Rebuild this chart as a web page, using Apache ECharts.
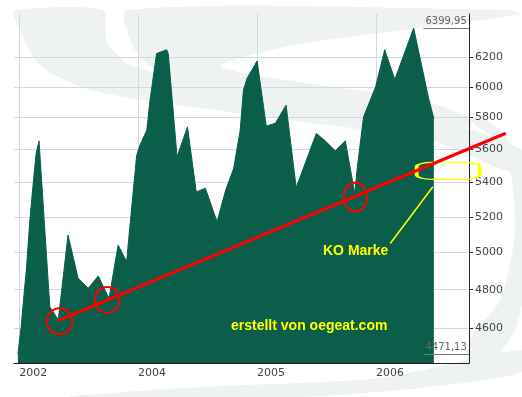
<!DOCTYPE html>
<html>
<head>
<meta charset="utf-8">
<script src="https://cdn.jsdelivr.net/npm/echarts@6/dist/echarts.min.js"></script>
<style>
  html, body { margin: 0; padding: 0; background: #fff; }
  #chart { width: 522px; height: 397px; }
</style>
</head>
<body>
<div id="chart"></div>
<script>
// index values
const dates = [
  '2002-12-28', '2003-01-07', '2003-01-17', '2003-01-23', '2003-02-02', '2003-02-12',
  '2003-02-22', '2003-03-03', '2003-04-05', '2003-05-01', '2003-05-31', '2003-07-01',
  '2003-08-01', '2003-09-01', '2003-10-04', '2003-11-01', '2003-11-27', '2003-12-07',
  '2003-12-28', '2004-01-07', '2004-01-28', '2004-02-07', '2004-02-27', '2004-03-29',
  '2004-04-03', '2004-04-30', '2004-06-01', '2004-06-28', '2004-07-26', '2004-08-31',
  '2004-09-26', '2004-10-21', '2004-11-10', '2004-11-20', '2004-12-01', '2005-01-01',
  '2005-01-29', '2005-02-26', '2005-03-31', '2005-05-01', '2005-07-02', '2005-07-30',
  '2005-08-29', '2005-09-29', '2005-10-28', '2005-11-05', '2005-11-24', '2005-12-31',
  '2006-01-28', '2006-02-28', '2006-04-27', '2006-06-12', '2006-06-28'
];
const values = [
  4471.13, 4608, 4798, 4905, 5163, 5375,
  5575, 5653, 4711, 4643, 5097, 4860,
  4807, 4873, 4754, 5041, 4950, 5144,
  5565, 5627, 5720, 5912, 6223, 6250,
  6223, 5555, 5741, 5345, 5366, 5172,
  5353, 5485, 5720, 5979, 6055, 6173,
  5746, 5764, 5880, 5371, 5700, 5652,
  5592, 5653, 5336, 5494, 5804, 5999,
  6250, 6048, 6399.95, 5923, 5794
];

const yTicks = [4600, 4800, 5000, 5200, 5400, 5600, 5800, 6000, 6200];
const xTickDates = ['2003-01-01', '2004-01-01', '2005-01-01', '2006-01-01'];
const xTickLabels = ['2002', '2004', '2005', '2006'];

// hand drawn markup
const trendDates = ['2003-05-01', '2007-02-04'];
const trendValues = [4639, 5701];
const circleDates = ['2003-05-05', '2003-09-28', '2005-10-30'];
const circleValues = [4636, 4746, 5314];
const pointerDates = ['2006-02-14', '2006-06-25'];
const pointerValues = [5050, 5375];
const boxDate = '2006-08-11';
const boxValue = 5470;

const t = s => Date.parse(s);
const xMin = t('2002-12-16');
const xMax = t('2006-10-14');
const yMin = 4428;
const yMax = 6500;
const xTickVals = xTickDates.map(t);
const maxV = Math.max(...values);
const minV = Math.min(...values);
const fmt = v => v.toFixed(2).replace('.', ',');

// the markup layer runs past the right axis, so it gets a wider grid on the same scale
const gridL = 14, gridR = 53, W = 522;
const xMaxWide = xMin + (xMax - xMin) * (W - gridL) / (W - gridL - gridR);

const green = '#0a5e4a';
const wm = '#eef2f0';

// background watermark
function swoosh(points) {
  return { type: 'polygon', z: -10, silent: true, shape: { points: points, smooth: 0.25 }, style: { fill: wm } };
}

const chart = echarts.init(document.getElementById('chart'));
chart.setOption({
  animation: false,
  backgroundColor: '#fff',
  grid: [
    { left: gridL, right: gridR, top: 14, bottom: 34 },
    { left: gridL, right: 0, top: 14, bottom: 34 }
  ],
  graphic: [
    swoosh([[15, 10], [103, 10], [106, 40], [130, 65], [220, 86], [320, 102], [430, 118], [522, 150],
            [522, 175], [430, 140], [320, 124], [200, 108], [90, 90], [40, 65], [15, 20]]),
    swoosh([[127, 10], [510, 10], [520, 14], [420, 28], [300, 44], [220, 66], [300, 82], [420, 100],
            [470, 118], [470, 128], [380, 110], [260, 95], [160, 72], [135, 50]]),
    swoosh([[470, 120], [505, 150], [515, 230], [500, 300], [470, 340], [470, 380], [515, 330],
            [530, 230], [515, 150], [490, 122]]),
    swoosh([[70, 397], [200, 387], [380, 378], [522, 350], [522, 372], [420, 388], [300, 397]]),
    { type: 'text', x: 323, y: 251, z: 20,
      style: { text: 'KO Marke', fill: '#ffff00', font: 'bold 14px "Liberation Sans", Arial, sans-serif', verticalAlign: 'middle' } },
    { type: 'text', x: 231, y: 326, z: 20,
      style: { text: 'erstellt von oegeat.com', fill: '#ffff00', font: 'bold 14px "Liberation Sans", Arial, sans-serif', verticalAlign: 'middle' } }
  ],
  xAxis: [
    {
      type: 'value',
      gridIndex: 0,
      min: xMin,
      max: xMax,
      axisLine: { onZero: false, lineStyle: { color: '#222', width: 1 } },
      axisTick: { show: false, customValues: xTickVals },
      axisLabel: {
        customValues: xTickVals,
        formatter: v => xTickLabels[xTickVals.indexOf(v)],
        align: 'left',
        margin: 5,
        color: '#444',
        fontFamily: 'DejaVu Sans',
        fontSize: 11
      },
      splitLine: { show: true, lineStyle: { color: '#d3d7ea', width: 1 } }
    },
    { type: 'value', gridIndex: 1, min: xMin, max: xMaxWide, show: false }
  ],
  yAxis: [
    {
      type: 'log',
      gridIndex: 0,
      position: 'right',
      min: yMin,
      max: yMax,
      axisLine: { show: true, lineStyle: { color: '#222', width: 1 } },
      axisTick: { show: true, length: 4, customValues: yTicks, lineStyle: { color: '#222' } },
      axisLabel: {
        customValues: yTicks,
        formatter: v => String(v),
        margin: 6,
        color: '#444',
        fontFamily: 'DejaVu Sans',
        fontSize: 11
      },
      splitLine: { show: true, lineStyle: { color: '#d3d7ea', width: 1 } }
    },
    { type: 'log', gridIndex: 1, min: yMin, max: yMax, show: false }
  ],
  series: [
    {
      type: 'line',
      data: dates.map((d, i) => [t(d), values[i]]),
      symbol: 'none',
      lineStyle: { color: green, width: 1 },
      areaStyle: { color: green, opacity: 1, origin: 'start' },
      silent: true,
      markLine: {
        silent: true,
        symbol: ['none', 'none'],
        lineStyle: { color: '#777', width: 1, type: 'solid' },
        label: { position: 'insideStartTop', formatter: '{b}', color: '#666', fontFamily: 'DejaVu Sans', fontSize: 10, distance: 2 },
        data: [
          [{ name: fmt(maxV), coord: [t('2006-05-27'), maxV] }, { coord: [xMax, maxV] }],
          [{ name: fmt(minV), coord: [t('2006-05-27'), minV] }, { coord: [xMax, minV] }]
        ]
      }
    },
    {
      type: 'line',
      xAxisIndex: 1,
      yAxisIndex: 1,
      z: 5,
      silent: true,
      data: trendDates.map((d, i) => [t(d), trendValues[i]]),
      symbol: 'none',
      lineStyle: { color: '#ff0000', width: 3 },
      markPoint: {
        silent: true,
        symbol: 'circle',
        label: { show: false },
        itemStyle: { color: 'rgba(0,0,0,0)', borderColor: '#ff0000', borderWidth: 2 },
        data: circleDates.map((d, i) => ({
          coord: [t(d), circleValues[i]],
          symbolSize: i === 2 ? [23, 29] : [25, 26]
        }))
      }
    },
    {
      type: 'line',
      xAxisIndex: 1,
      yAxisIndex: 1,
      z: 5,
      silent: true,
      data: pointerDates.map((d, i) => [t(d), pointerValues[i]]),
      symbol: 'none',
      lineStyle: { color: '#ffff00', width: 1.5 },
      markPoint: {
        silent: true,
        symbol: 'roundRect',
        symbolSize: [63, 17],
        label: { show: false },
        itemStyle: { color: 'rgba(0,0,0,0)', borderColor: '#ffff00', borderWidth: 2 },
        data: [{ coord: [t(boxDate), boxValue] }]
      }
    }
  ]
});
</script>
</body>
</html>
